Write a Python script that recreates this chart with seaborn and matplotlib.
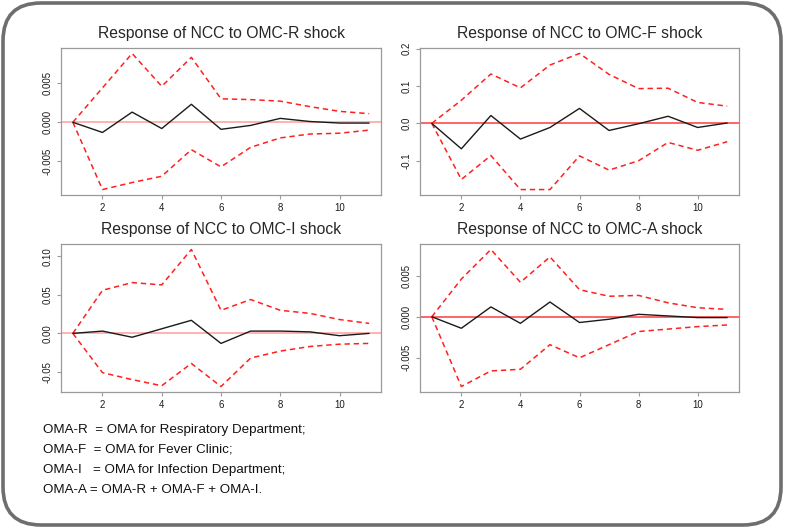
import numpy as np
import pandas as pd
import seaborn as sns
import matplotlib.pyplot as plt
from matplotlib.patches import FancyBboxPatch
from matplotlib.transforms import IdentityTransform

# impulse response horizon
steps = list(range(1, 12))

# Response of NCC to OMC-R shock
r_irf = [0, -0.0013, 0.0013, -0.0008, 0.0023, -0.0009, -0.0004, 0.0005, 0.0001, -0.0001, -0.0001]
r_upper = [0, 0.0044, 0.0088, 0.0046, 0.0083, 0.0030, 0.0029, 0.0027, 0.0020, 0.0014, 0.0011]
r_lower = [0, -0.0086, -0.0077, -0.0069, -0.0035, -0.0057, -0.0032, -0.0020, -0.0015, -0.0014, -0.0010]

# Response of NCC to OMC-F shock
f_irf = [0, -0.068, 0.021, -0.042, -0.011, 0.040, -0.019, -0.001, 0.019, -0.011, 0.001]
f_upper = [0, 0.062, 0.132, 0.095, 0.156, 0.187, 0.131, 0.093, 0.094, 0.056, 0.046]
f_lower = [0, -0.150, -0.086, -0.177, -0.177, -0.087, -0.125, -0.100, -0.051, -0.072, -0.049]

# Response of NCC to OMC-I shock
i_irf = [0, 0.003, -0.005, 0.006, 0.017, -0.013, 0.003, 0.003, 0.002, -0.003, 0.0]
i_upper = [0, 0.056, 0.066, 0.063, 0.109, 0.030, 0.044, 0.030, 0.026, 0.018, 0.013]
i_lower = [0, -0.051, -0.060, -0.068, -0.039, -0.069, -0.032, -0.023, -0.017, -0.014, -0.013]

# Response of NCC to OMC-A shock
a_irf = [0, -0.0014, 0.0012, -0.0008, 0.0018, -0.0007, -0.0003, 0.0003, 0.0001, -0.0001, -0.0001]
a_upper = [0, 0.0046, 0.0082, 0.0042, 0.0073, 0.0033, 0.0025, 0.0026, 0.0017, 0.0011, 0.0009]
a_lower = [0, -0.0085, -0.0066, -0.0064, -0.0034, -0.0050, -0.0034, -0.0018, -0.0015, -0.0012, -0.0010]

titles = ["Response of NCC to OMC-R shock", "Response of NCC to OMC-F shock",
          "Response of NCC to OMC-I shock", "Response of NCC to OMC-A shock"]
yticks = [[-0.005, 0.0, 0.005], [-0.1, 0.0, 0.1, 0.2],
          [-0.05, 0.0, 0.05, 0.10], [-0.005, 0.0, 0.005]]
ytick_labels = [["-0.005", "0.000", "0.005"], ["-0.1", "0.0", "0.1", "0.2"],
                ["-0.05", "0.00", "0.05", "0.10"], ["-0.005", "0.000", "0.005"]]
xticks = [2, 4, 6, 8, 10]

notes = ["OMA-R  = OMA for Respiratory Department;",
         "OMA-F  = OMA for Fever Clinic;",
         "OMA-I   = OMA for Infection Department;",
         "OMA-A = OMA-R + OMA-F + OMA-I."]

sns.set_style("white")
plt.rcParams["font.family"] = ["Liberation Sans", "DejaVu Sans"]

W, H = 785, 528
fig = plt.figure(figsize=(W / 100, H / 100), dpi=100)

# axes boxes in pixels: (left, top, right, bottom)
boxes = [(61, 48, 381, 195), (420, 48, 739, 195),
         (61, 244, 381, 392), (420, 244, 739, 392)]
series = [(r_irf, r_upper, r_lower), (f_irf, f_upper, f_lower),
          (i_irf, i_upper, i_lower), (a_irf, a_upper, a_lower)]
zero_colors = ["#ff9c9c", "#ff3b3b", "#ff9c9c", "#ff3b3b"]

for k, (box, (irf, up, lo)) in enumerate(zip(boxes, series)):
    l, t, r, b = box
    ax = fig.add_axes([l / W, 1 - b / H, (r - l) / W, (b - t) / H])
    df = pd.DataFrame({"step": steps, "irf": irf, "upper": up, "lower": lo})

    ax.axhline(0, color=zero_colors[k], lw=1.1, zorder=1)
    sns.lineplot(data=df, x="step", y="upper", ax=ax, color="#ff2020",
                 lw=1.1, linestyle=(0, (3.5, 2.5)), errorbar=None)
    sns.lineplot(data=df, x="step", y="lower", ax=ax, color="#ff2020",
                 lw=1.1, linestyle=(0, (3.5, 2.5)), errorbar=None)
    sns.lineplot(data=df, x="step", y="irf", ax=ax, color="#1a1a1a",
                 lw=1.0, errorbar=None)

    # R style 4% axis extension
    lo_v = min(lo + irf)
    hi_v = max(up + irf)
    ext = 0.04 * (hi_v - lo_v)
    ax.set_ylim(lo_v - ext, hi_v + ext)
    ax.set_xlim(0.6, 11.4)

    ax.set_xticks(xticks)
    ax.set_yticks(yticks[k])
    ax.set_yticklabels(ytick_labels[k])
    ax.set_xlabel("")
    ax.set_ylabel("")
    ax.set_title(titles[k], fontsize=11.3, pad=7)

    for s in ax.spines.values():
        s.set_color("#9a9a9a")
        s.set_linewidth(0.9)
    ax.tick_params(axis="both", length=3, width=0.8, color="#9a9a9a",
                   labelsize=6.9, labelcolor="#1a1a1a", pad=3, direction="out",
                   bottom=True, left=True)
    plt.setp(ax.get_yticklabels(), rotation=90, va="center", ha="right")

# footnote
for j, line in enumerate(notes):
    y_px = 430 + j * 20
    fig.text(43 / W, 1 - y_px / H, line, fontsize=9.6, va="center", ha="left",
             color="#111111")

# rounded outer frame
frame = FancyBboxPatch((3, 3), 778, 522, boxstyle="round,pad=0,rounding_size=38",
                       transform=IdentityTransform(), fill=False,
                       edgecolor="#6e6e6e", linewidth=2.6)
fig.patches.append(frame)

fig.savefig("out.png", dpi=100)
